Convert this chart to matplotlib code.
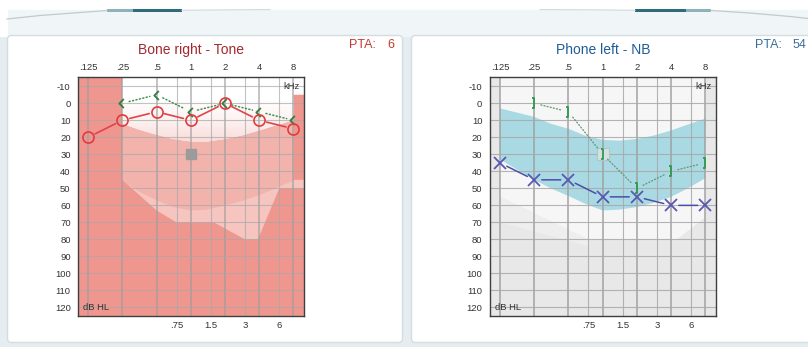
import numpy as np
import matplotlib
matplotlib.use("Agg")
import matplotlib.pyplot as plt
from matplotlib.patches import Polygon, FancyBboxPatch, Rectangle
from matplotlib.path import Path
from matplotlib.colors import LinearSegmentedColormap

plt.rcParams['font.family'] = ['Liberation Sans', 'DejaVu Sans']

# ---- axis definitions (frequency in kHz, level in dB HL) ----
octave_freqs = [0.125, 0.25, 0.5, 1, 2, 4, 8]
octave_labels = ['.125', '.25', '.5', '1', '2', '4', '8']
mid_freqs = [0.75, 1.5, 3, 6]
mid_labels = ['.75', '1.5', '3', '6']
db_ticks = list(range(-10, 121, 10))

# ---- Bone right - Tone ----
bone_freqs = [0.125, 0.25, 0.5, 1, 2, 4, 8]
bone_db = [20, 10, 5, 10, 0, 10, 15]
bone_unmasked_freqs = [0.25, 0.5, 1, 2, 4, 8]
bone_unmasked_db = [0, -5, 5, 0, 5, 10]
bone_square_freq = [1]
bone_square_db = [30]
bone_pta = 6

# ---- Phone left - NB ----
phone_freqs = [0.125, 0.25, 0.5, 1, 2, 4, 8]
phone_db = [35, 45, 45, 55, 55, 60, 60]
phone_bc_freqs = [0.25, 0.5, 1, 2, 4, 8]
phone_bc_db = [0, 5, 30, 50, 40, 35]
phone_sel_freq = [1]
phone_sel_db = [30]
phone_pta = 54

# ---- background zones (freq, dB) ----
XMAX = 2 ** 3.31
XMIN = 2 ** -3.29
TOP, BOT = -15.6, 125

bone_range_zone = [(0.25, -16), (8, -16), (8, 45), (XMAX, 45), (XMAX, 50), (6, 50),
                   (3.9, 80), (3, 80), (1.6, 70), (0.75, 70), (0.5, 63), (0.25, 45)]
bone_mid_freqs = [8, 6, 5.6, 4, 2.8, 2, 1.4, 1, 0.7, 0.5, 0.35, 0.27, 0.25]
bone_mid_db = [45.5, 49, 50, 54, 57.5, 60, 62.5, 63, 61, 57, 52, 47, 45]
bone_top_freqs = [8, 5.6, 4, 2.8, 2, 1.4, 1, 0.7, 0.5, 0.35, 0.25]
bone_top_db = [10, 13, 16, 19, 21, 22.5, 22.5, 21, 18.5, 15.5, 12]

phone_range_zone = [(0.125, -16), (8, -16), (8, 67), (4.5, 80), (0.75, 80), (0.125, 55)]
band_freqs = [0.125, 0.25, 0.35, 0.5, 0.7, 1, 1.4, 2, 2.8, 4, 5.6, 8]
band_upper_db = [3, 8, 12, 15, 19, 21.5, 22, 21, 19, 16, 12.5, 9]
band_lower_db = [33, 45, 50, 54.5, 59, 63, 62.5, 61, 58.5, 55, 50, 44]

W, H = 808, 347
fig = plt.figure(figsize=(W / 100, H / 100), dpi=100)

# ---- page background in pixel coordinates ----
bg = fig.add_axes([0, 0, 1, 1])
bg.set_xlim(0, W)
bg.set_ylim(H, 0)
bg.axis('off')
bg.set_zorder(-5)
bg.add_patch(Rectangle((0, 0), W, H, color='#E6EDF0'))
bg.add_patch(Rectangle((0, 0), W, 9.5, color='#FFFFFF'))
bg.add_patch(Rectangle((7, 9.5), W - 7, 26, color='#F0F5F7'))
bg.add_patch(Rectangle((0, 9.5), 7, 26, color='#FFFFFF'))
bg.plot([7, 40, 80, 107], [19, 15.5, 12.5, 10.5], color='#C2CACC', lw=0.9)
bg.plot([182, 230, 270], [10.3, 9.8, 9.6], color='#D3DADC', lw=0.8)
bg.plot([711, 750, 790, 808], [10.5, 13, 16.5, 18.5], color='#C2CACC', lw=0.9)
bg.plot([540, 590, 635], [9.6, 9.8, 10.3], color='#D3DADC', lw=0.8)
for x0, x1, c in [(107, 133, '#8DB2BB'), (133, 182, '#2E6C7C'),
                  (635, 686, '#2E6C7C'), (686, 711, '#8DB2BB')]:
    bg.add_patch(Rectangle((x0, 9), x1 - x0, 2.6, color=c, lw=0))
for x0, x1 in [(7.5, 402.5), (411.5, 815)]:
    bg.add_patch(FancyBboxPatch((x0, 35.5), x1 - x0, 307, boxstyle='round,pad=0,rounding_size=4',
                                facecolor='#FFFFFF', edgecolor='#D5DDE0', lw=1.0))


def fx(px):
    return px / W


def fy(py):
    return 1 - py / H


def connect(ax, xs, ys, color, lw, ls, gap):
    for i in range(len(xs) - 1):
        ax.annotate('', xy=(xs[i + 1], ys[i + 1]), xytext=(xs[i], ys[i]),
                    arrowprops=dict(arrowstyle='-', color=color, lw=lw, linestyle=ls,
                                    shrinkA=gap, shrinkB=gap),
                    zorder=3.5, annotation_clip=False)


def setup_axes(ax, face, grid_alpha):
    ax.set_xscale('log', base=2)
    ax.set_xlim(XMIN, XMAX)
    ax.set_ylim(BOT, TOP)
    ax.set_facecolor(face)
    ax.set_xticks(octave_freqs)
    ax.set_xticklabels(octave_labels)
    ax.set_xticks(mid_freqs, minor=True)
    ax.set_xticklabels(mid_labels, minor=True)
    ax.set_yticks(db_ticks)
    ax.set_yticklabels([str(v) for v in db_ticks])
    ax.tick_params(which='major', axis='x', length=0, labelbottom=False, labeltop=True,
                   pad=3.5, labelsize=6.8, labelcolor='#333333')
    ax.tick_params(which='minor', axis='x', length=0, labelbottom=True, labeltop=False,
                   pad=3.5, labelsize=6.8, labelcolor='#333333')
    ax.tick_params(axis='y', length=0, pad=5.5, labelsize=6.8, labelcolor='#333333')
    ax.set_axisbelow(False)
    ax.xaxis.grid(True, which='major', color='#9C9C9C', lw=1.2, alpha=grid_alpha)
    ax.xaxis.grid(True, which='minor', color='#A8A8A8', lw=0.8, alpha=grid_alpha)
    ax.yaxis.grid(True, which='major', color='#A8A8A8', lw=0.8, alpha=grid_alpha)
    for s in ax.spines.values():
        s.set_color('#3E3E3E')
        s.set_linewidth(1.0)
        s.set_zorder(5)
    ax.text(0.982, -10, 'kHz', transform=ax.get_yaxis_transform(), ha='right', va='center',
            fontsize=6.8, color='#333333', zorder=6)
    ax.text(0.022, 120, 'dB HL', transform=ax.get_yaxis_transform(), ha='left', va='center',
            fontsize=6.8, color='#333333', zorder=6)


ax_top, ax_bot = 76.7, 316
dots = (0, (0.7, 1.6))

# ================= Bone right - Tone =================
axL = fig.add_axes([fx(78.3), fy(ax_bot), (304 - 78.3) / W, (ax_bot - ax_top) / H])
setup_axes(axL, '#EF978F', 0.7)
axL.add_patch(Polygon(bone_range_zone, closed=True, facecolor='#F6C5C0', edgecolor='none', zorder=1))
mid_zone = [(0.25, -16), (8, -16)] + list(zip(bone_mid_freqs, bone_mid_db))
axL.add_patch(Polygon(mid_zone, closed=True, facecolor='#F3B3AD', edgecolor='none', zorder=1.1))
top_zone = [(0.25, -16), (XMAX, -16), (XMAX, -5), (8, -5)] + list(zip(bone_top_freqs, bone_top_db))
top_patch = Polygon(top_zone, closed=True, facecolor='#FFFFFF', edgecolor='none', zorder=1.2)
axL.add_patch(top_patch)
fade = LinearSegmentedColormap.from_list('fade', ['#FFFFFF', '#FDF1F0', '#F8DAD7'])
shade = np.linspace(0, 1, 200).reshape(-1, 1)
im = axL.imshow(shade, extent=(0, 1, 24, -2), origin='upper', transform=axL.get_yaxis_transform(),
                aspect='auto', cmap=fade, zorder=1.3, interpolation='bilinear')
im.set_clip_path(top_patch)
axL.set_xlim(XMIN, XMAX)
axL.set_ylim(BOT, TOP)

axL.plot(bone_square_freq, bone_square_db, linestyle='none', marker='s', markersize=6.5,
         color='#9B9B9B', zorder=3)
connect(axL, bone_unmasked_freqs, bone_unmasked_db, '#3F8F50', 1.1, dots, 5)
lt_marker = Path([(0.3, 1), (-0.7, 0), (0.3, -1)], [Path.MOVETO, Path.LINETO, Path.LINETO])
axL.plot(bone_unmasked_freqs, bone_unmasked_db, linestyle='none', marker=lt_marker,
         markersize=6.5, mfc='none', mec='#2F8040', mew=1.3, zorder=4)
connect(axL, bone_freqs, bone_db, '#E0444A', 1.2, '-', 5.5)
axL.plot(bone_freqs, bone_db, linestyle='none', marker='o', markersize=8, mfc='none',
         mec='#E23A3E', mew=1.2, zorder=4)

fig.text(fx(191), fy(50), 'Bone right - Tone', ha='center', va='center', fontsize=10,
         color='#A3282E')
fig.text(fx(349.5), fy(45), 'PTA:', ha='left', va='center', fontsize=9, color='#C23A30')
fig.text(fx(394), fy(45), str(bone_pta), ha='right', va='center', fontsize=9, color='#C23A30')

# ================= Phone left - NB =================
axR = fig.add_axes([fx(490), fy(ax_bot), (716 - 490) / W, (ax_bot - ax_top) / H])
setup_axes(axR, '#E8E8E8', 0.85)
axR.add_patch(Polygon(phone_range_zone, closed=True, facecolor='#F6F6F6', edgecolor='none', zorder=1))
axR.add_patch(Polygon([(0.125, 55), (0.75, 80), (0.75, 84), (0.125, 70)], closed=True,
                      facecolor='#EEEEEE', edgecolor='none', zorder=1))
band = list(zip(band_freqs, band_upper_db)) + list(zip(band_freqs[::-1], band_lower_db[::-1]))
axR.add_patch(Polygon(band, closed=True, facecolor='#A9DAE4', edgecolor='none', zorder=1.2))

axR.plot(phone_sel_freq, phone_sel_db, linestyle='none', marker='s', markersize=8,
         mfc='#D9E2E2', mec='#B5C2C2', mew=0.8, alpha=0.9, zorder=3)
connect(axR, phone_bc_freqs, phone_bc_db, '#6A9A78', 1.0, dots, 5)
br_marker = Path([(-0.5, 1), (0, 1), (0, -1), (-0.5, -1)],
                 [Path.MOVETO, Path.LINETO, Path.LINETO, Path.LINETO])
axR.plot(phone_bc_freqs, phone_bc_db, linestyle='none', marker=br_marker, markersize=6.5,
         mfc='none', mec='#2E9A4C', mew=1.3, zorder=4)
connect(axR, phone_freqs, phone_db, '#4E4EA6', 1.1, '-', 5.5)
axR.plot(phone_freqs, phone_db, linestyle='none', marker='x', markersize=8, mec='#5858B2',
         mew=1.3, zorder=4)

fig.text(fx(603), fy(50), 'Phone left - NB', ha='center', va='center', fontsize=10,
         color='#1E5D9A')
fig.text(fx(755), fy(45), 'PTA:', ha='left', va='center', fontsize=9, color='#3A6D9C')
fig.text(fx(792.5), fy(45), str(phone_pta), ha='left', va='center', fontsize=9, color='#3A6D9C')

fig.savefig('out.png', dpi=100)
